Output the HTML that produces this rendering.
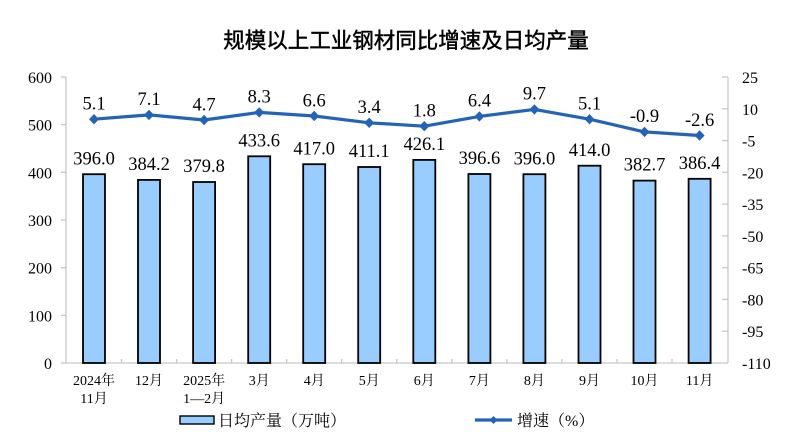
<!DOCTYPE html>
<html><head><meta charset="utf-8"><style>
html,body{margin:0;padding:0;background:#fff;}
svg{display:block;}
.n{font-family:"Liberation Serif","Noto Serif CJK SC",serif;font-size:18.5px;fill:#000;text-anchor:middle;}
.ax{font-family:"Liberation Serif",serif;font-size:16px;fill:#000;}
.cat{font-family:"Liberation Serif","Noto Serif CJK SC",serif;font-size:14px;fill:#000;text-anchor:middle;}
.lg{font-family:"Liberation Serif","Noto Serif CJK SC",serif;font-size:16px;fill:#000;}
.t{font-family:"Liberation Sans","Noto Sans CJK SC",sans-serif;font-size:21.5px;fill:#000;stroke:#000;stroke-width:0.45px;text-anchor:middle;}
</style></head><body>
<svg width="800" height="436" viewBox="0 0 800 436" xmlns="http://www.w3.org/2000/svg">
<text class="t" x="406" y="48">规模以上工业钢材同比增速及日均产量</text>
<!-- axes -->
<g stroke="#c8c8c8" stroke-width="1.3" fill="none">
<line x1="66" y1="77" x2="66" y2="363"/>
<line x1="728" y1="77" x2="728" y2="363"/>
<line x1="66" y1="363" x2="728" y2="363"/>
<line x1="61" y1="77" x2="66" y2="77"/><line x1="61" y1="124.7" x2="66" y2="124.7"/><line x1="61" y1="172.3" x2="66" y2="172.3"/><line x1="61" y1="220" x2="66" y2="220"/><line x1="61" y1="267.7" x2="66" y2="267.7"/><line x1="61" y1="315.3" x2="66" y2="315.3"/><line x1="61" y1="363" x2="66" y2="363"/>
<line x1="722" y1="77" x2="728" y2="77"/><line x1="722" y1="108.8" x2="728" y2="108.8"/><line x1="722" y1="140.6" x2="728" y2="140.6"/><line x1="722" y1="172.3" x2="728" y2="172.3"/><line x1="722" y1="204.1" x2="728" y2="204.1"/><line x1="722" y1="235.9" x2="728" y2="235.9"/><line x1="722" y1="267.7" x2="728" y2="267.7"/><line x1="722" y1="299.4" x2="728" y2="299.4"/><line x1="722" y1="331.2" x2="728" y2="331.2"/>
<line x1="121.5" y1="359" x2="121.5" y2="363"/><line x1="176.6" y1="359" x2="176.6" y2="363"/><line x1="231.6" y1="359" x2="231.6" y2="363"/><line x1="286.7" y1="359" x2="286.7" y2="363"/><line x1="341.7" y1="359" x2="341.7" y2="363"/><line x1="396.8" y1="359" x2="396.8" y2="363"/><line x1="451.8" y1="359" x2="451.8" y2="363"/><line x1="506.9" y1="359" x2="506.9" y2="363"/><line x1="561.9" y1="359" x2="561.9" y2="363"/><line x1="617" y1="359" x2="617" y2="363"/><line x1="672" y1="359" x2="672" y2="363"/>
</g>
<!-- left labels -->
<g class="ax" text-anchor="end">
<text x="52" y="83">600</text><text x="52" y="130.7">500</text><text x="52" y="178.3">400</text><text x="52" y="226">300</text><text x="52" y="273.7">200</text><text x="52" y="321.3">100</text><text x="52" y="369">0</text>
</g>
<g class="ax" text-anchor="start">
<text x="742" y="83">25</text><text x="742" y="114.8">10</text><text x="742" y="146.6">-5</text><text x="742" y="178.3">-20</text><text x="742" y="210.1">-35</text><text x="742" y="241.9">-50</text><text x="742" y="273.7">-65</text><text x="742" y="305.4">-80</text><text x="742" y="337.2">-95</text><text x="742" y="369">-110</text>
</g>
<!-- bars -->
<g fill="#99ccff" stroke="#000" stroke-width="1.8">
<rect x="83" y="174.2" width="22" height="188.8"/>
<rect x="138" y="179.9" width="22" height="183.1"/>
<rect x="193.1" y="182" width="22" height="181"/>
<rect x="248.2" y="156.3" width="22" height="206.7"/>
<rect x="303.2" y="164.2" width="22" height="198.8"/>
<rect x="358.2" y="167" width="22" height="196"/>
<rect x="413.3" y="159.9" width="22" height="203.1"/>
<rect x="468.4" y="174" width="22" height="189"/>
<rect x="523.4" y="174.2" width="22" height="188.8"/>
<rect x="578.5" y="165.7" width="22" height="197.3"/>
<rect x="633.5" y="180.6" width="22" height="182.4"/>
<rect x="688.6" y="178.8" width="22" height="184.2"/>
</g>
<!-- bar labels -->
<g class="n">
<text x="94" y="164.5">396.0</text>
<text x="149" y="170">384.2</text>
<text x="204.1" y="172">379.8</text>
<text x="259.2" y="146.5">433.6</text>
<text x="314.2" y="154.5">417.0</text>
<text x="369.2" y="157">411.1</text>
<text x="424.3" y="150">426.1</text>
<text x="479.4" y="164">396.6</text>
<text x="534.4" y="164.5">396.0</text>
<text x="589.5" y="156">414.0</text>
<text x="644.5" y="170.5">382.7</text>
<text x="699.6" y="169">386.4</text>
</g>
<!-- line -->
<polyline fill="none" stroke="#2464b8" stroke-width="3.2" stroke-linejoin="round" points="94,119.2 149,114.9 204.1,120 259.2,112.4 314.2,116 369.2,122.8 424.3,126.2 479.4,116.4 534.4,109.4 589.5,119.2 644.5,131.9 699.6,135.5"/>
<g fill="#2464b8">
<path d="M94,114 L99,119.2 L94,124.4 L89,119.2Z"/>
<path d="M149,109.7 L154,114.9 L149,120.1 L144,114.9Z"/>
<path d="M204.1,114.8 L209.1,120 L204.1,125.2 L199.1,120Z"/>
<path d="M259.2,107.2 L264.2,112.4 L259.2,117.6 L254.2,112.4Z"/>
<path d="M314.2,110.8 L319.2,116 L314.2,121.2 L309.2,116Z"/>
<path d="M369.2,117.6 L374.2,122.8 L369.2,128 L364.2,122.8Z"/>
<path d="M424.3,121 L429.3,126.2 L424.3,131.4 L419.3,126.2Z"/>
<path d="M479.4,111.2 L484.4,116.4 L479.4,121.6 L474.4,116.4Z"/>
<path d="M534.4,104.2 L539.4,109.4 L534.4,114.6 L529.4,109.4Z"/>
<path d="M589.5,114 L594.5,119.2 L589.5,124.4 L584.5,119.2Z"/>
<path d="M644.5,126.7 L649.5,131.9 L644.5,137.1 L639.5,131.9Z"/>
<path d="M699.6,130.3 L704.6,135.5 L699.6,140.7 L694.6,135.5Z"/>
</g>
<g class="n">
<text x="94" y="109.5">5.1</text>
<text x="149" y="105.2">7.1</text>
<text x="204.1" y="110.3">4.7</text>
<text x="259.2" y="102.7">8.3</text>
<text x="314.2" y="106.3">6.6</text>
<text x="369.2" y="113.1">3.4</text>
<text x="424.3" y="116.5">1.8</text>
<text x="479.4" y="106.7">6.4</text>
<text x="534.4" y="99.7">9.7</text>
<text x="589.5" y="109.5">5.1</text>
<text x="644.5" y="122.2">-0.9</text>
<text x="699.6" y="125.8">-2.6</text>
</g>
<!-- categories -->
<g class="cat">
<text x="94" y="385">2024年</text><text x="94" y="403">11月</text>
<text x="149" y="385">12月</text>
<text x="204.1" y="385">2025年</text><text x="204.1" y="403">1—2月</text>
<text x="259.2" y="385">3月</text>
<text x="314.2" y="385">4月</text>
<text x="369.2" y="385">5月</text>
<text x="424.3" y="385">6月</text>
<text x="479.4" y="385">7月</text>
<text x="534.4" y="385">8月</text>
<text x="589.5" y="385">9月</text>
<text x="644.5" y="385">10月</text>
<text x="699.6" y="385">11月</text>
</g>
<!-- legend -->
<rect x="180" y="416" width="34" height="8" fill="#99ccff" stroke="#000" stroke-width="1.4"/>
<text class="lg" x="218" y="426">日均产量（万吨）</text>
<line x1="475" y1="420" x2="512" y2="420" stroke="#2464b8" stroke-width="3.2"/>
<path d="M493.5,416 L497.5,420 L493.5,424 L489.5,420Z" fill="#2464b8"/>
<text class="lg" x="517" y="426">增速（%）</text>
</svg>
</body></html>
